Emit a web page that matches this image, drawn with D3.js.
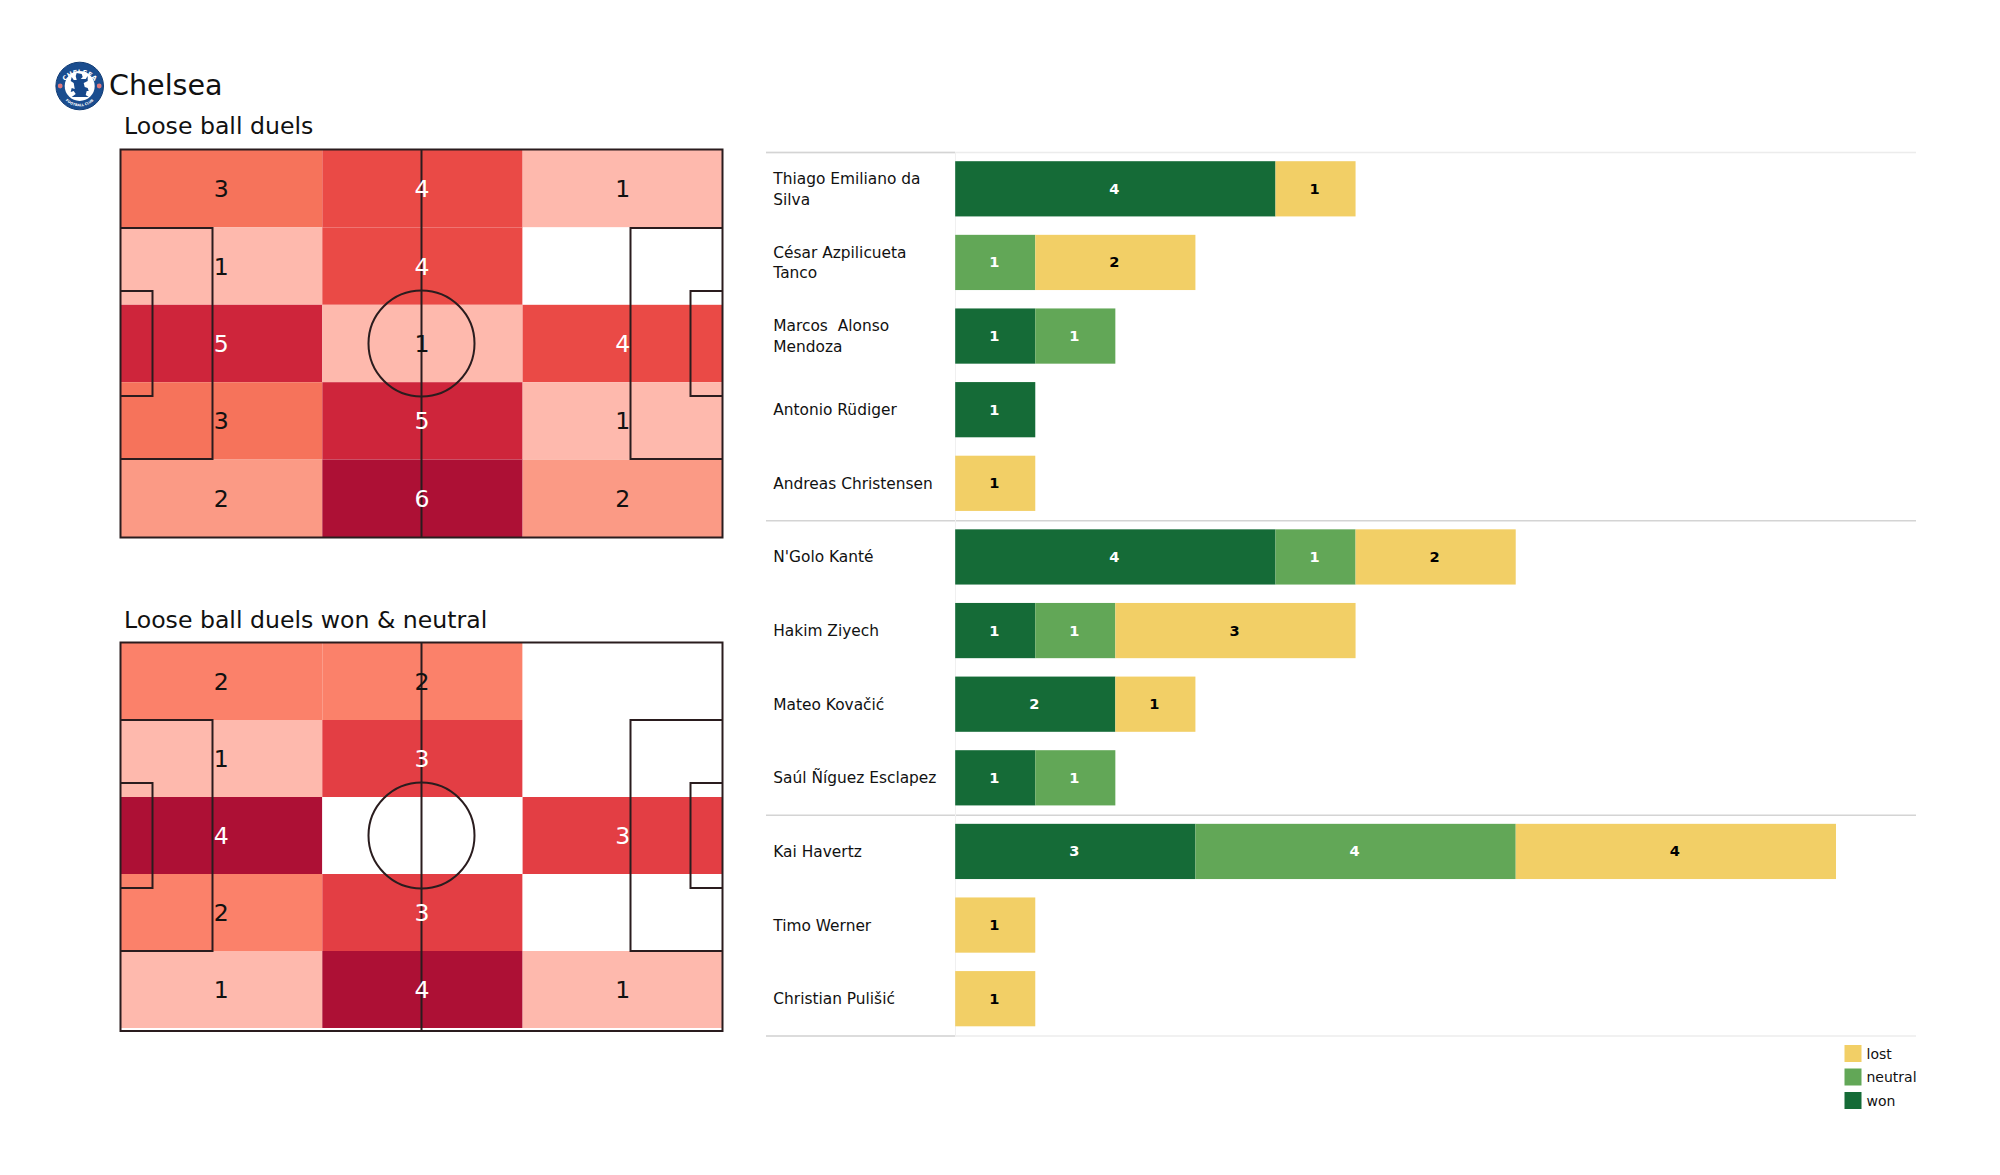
<!DOCTYPE html>
<html><head><meta charset="utf-8">
<script src="https://cdn.jsdelivr.net/npm/d3@7"></script>
<style>
html,body{margin:0;padding:0;background:#fff}
svg{display:block}
text{font-family:"DejaVu Sans",sans-serif}
</style></head><body>
<svg id="c" width="2000" height="1175"></svg>
<script>
const teamName = "Chelsea";
const pitchTitles = ["Loose ball duels", "Loose ball duels won & neutral"];
const duelsAll = [[3,4,1],[1,4,0],[5,1,4],[3,5,1],[2,6,2]];
const duelsWon = [[2,2,0],[1,3,0],[4,0,3],[2,3,0],[1,4,1]];
const rampAll = ["#ffffff","#feb9ad","#fb9a85","#f6735b","#ea4a46","#ce253b","#ad1035"];
const rampWon = ["#ffffff","#feb9ad","#fb816a","#e33e44","#ad1035"];
const players = ["Thiago Emiliano da|Silva","César Azpilicueta|Tanco","Marcos  Alonso|Mendoza","Antonio Rüdiger","Andreas Christensen","N'Golo Kanté","Hakim Ziyech","Mateo Kovačić","Saúl Ñíguez Esclapez","Kai Havertz","Timo Werner","Christian Pulišić"];
const won     = [4,0,1,1,0,4,1,2,1,3,0,0];
const neutral = [0,1,1,0,0,1,1,0,1,4,0,0];
const lost    = [1,2,0,0,1,2,3,1,0,4,1,1];
const groupEnds = [0,5,9,12];
const outcomes = ["won","neutral","lost"];
const outcomeColors = ["#156b37","#62a757","#f2cf66"];
const legendOrder = ["lost","neutral","won"];

const svg = d3.select("#c");

// ----- header
svg.append("text").attr("x",109).attr("y",95).attr("font-size",28.6).attr("fill","#111").text(teamName);
const crest = svg.append("g").attr("transform","translate(79.7,86)");
crest.append("circle").attr("r",23.8).attr("fill","#1a4d8f");
crest.append("circle").attr("r",23.8).attr("fill","none").attr("stroke","#103b74").attr("stroke-width",1);
crest.append("circle").attr("r",15).attr("fill","#fff");
const defs = svg.append("defs");
defs.append("path").attr("id","arcTop").attr("d","M-18.5,3 A19,19 0 0 1 18.5,3");
defs.append("path").attr("id","arcBot").attr("d","M-18,9 A20,20 0 0 0 18,9");
crest.append("text").attr("font-size",6.6).attr("font-weight","bold").attr("fill","#fff").attr("text-anchor","middle")
  .append("textPath").attr("href","#arcTop").attr("startOffset","50%").text("CHELSEA");
crest.append("text").attr("font-size",3.4).attr("font-weight","bold").attr("fill","#fff").attr("text-anchor","middle")
  .append("textPath").attr("href","#arcBot").attr("startOffset","50%").text("FOOTBALL CLUB");
crest.selectAll("circle.dot").data([-1,1]).join("circle").attr("class","dot").attr("cx",d=>d*19.5).attr("cy",0).attr("r",2.4).attr("fill","#e0787c");
crest.append("path").attr("fill","#17498c")
  .attr("d","M-3,-13 L2,-12 L3,-9 L1,-7 L6,-7 L8,-10 L8,-5 L4,-3 L5,1 L8,2 L9,5 L7,5 L6,9 L9,11 L-8,11 L-4,8 L-6,5 L-9,6 L-8,2 L-5,3 L-6,-3 L-9,-5 L-8,-9 L-6,-6 L-3,-6 L-4,-10 Z");

// ----- pitches
function drawPitch(cfg){
  const g = svg.append("g");
  const x = d3.scaleLinear().domain([0,1,2,3]).range([cfg.x0,322.3,522.6,cfg.x1]);
  const xLabel = d3.scaleLinear().domain([0,3]).range([cfg.x0+0.5,cfg.x1+0.5]);
  const y = d3.scaleLinear().domain([0,5]).range([cfg.y0,cfg.y0+cfg.rowH*5]);
  const maxV = d3.max(cfg.values.flat());
  const col = d3.scaleOrdinal().domain(d3.range(cfg.ramp.length)).range(cfg.ramp);
  const cells = cfg.values.flatMap((r,i)=>r.map((v,j)=>({v,i,j})));
  g.selectAll("rect").data(cells).join("rect")
    .attr("x",d=>x(d.j)).attr("y",d=>y(d.i))
    .attr("width",d=>x(d.j+1)-x(d.j)).attr("height",d=>y(d.i+1)-y(d.i))
    .attr("fill",d=>col(d.v));
  const L = cfg.x0, R = cfg.x1, T = cfg.top, B = cfg.bottom, M = (L+R)/2, C = (cfg.y0+cfg.y0+cfg.rowH*5)/2;
  const line = g.append("g").attr("fill","none").attr("stroke","#2a1c1e").attr("stroke-width",2);
  line.append("rect").attr("x",L).attr("y",T).attr("width",R-L).attr("height",B-T);
  line.append("line").attr("x1",M).attr("x2",M).attr("y1",T).attr("y2",B);
  line.append("circle").attr("cx",M).attr("cy",C).attr("r",53);
  [[L,1],[R,-1]].forEach(([e,s])=>{
    line.append("path").attr("d",`M${e},${C-115.5}H${e+s*92}V${C+115.5}H${e}`);
    line.append("path").attr("d",`M${e},${C-52.5}H${e+s*32}V${C+52.5}H${e}`);
  });
  g.selectAll("text.v").data(cells.filter(d=>d.v>0)).join("text").attr("class","v")
    .attr("x",d=>(xLabel(d.j)+xLabel(d.j+1))/2).attr("y",d=>(y(d.i)+y(d.i+1))/2+8.5)
    .attr("text-anchor","middle").attr("font-size",23.6)
    .attr("fill",d=>d.v/maxV>0.6?"#fff":"#111").text(d=>d.v);
  svg.append("text").attr("x",124).attr("y",cfg.titleY).attr("font-size",23.6).attr("fill","#111").text(cfg.title);
}
drawPitch({values:duelsAll,ramp:rampAll,x0:120.5,x1:722.5,y0:150,rowH:77.4,top:149.5,bottom:537.5,title:pitchTitles[0],titleY:134});
drawPitch({values:duelsWon,ramp:rampWon,x0:120.5,x1:722.5,y0:643,rowH:77,top:642.5,bottom:1031,title:pitchTitles[1],titleY:628});

// ----- bars
const rows = players.map((p,i)=>({p,won:won[i],neutral:neutral[i],lost:lost[i]}));
const yB = d3.scaleBand().domain(d3.range(players.length)).range([152.5,1036]).paddingInner(0.25).paddingOuter(0.125);
const step = yB.step();
const xB = d3.scaleLinear().domain([0,11]).range([955.2,1836]);
const colorB = d3.scaleOrdinal().domain(outcomes).range(outcomeColors);
const stacked = d3.stack().keys(outcomes)(rows);
const bars = svg.append("g");
const barsTop = 152.5;
bars.selectAll("line.sep").data(groupEnds).join("line").attr("class","sep")
  .attr("x1",766).attr("x2",1916).attr("y1",d=>barsTop+d*step).attr("y2",d=>barsTop+d*step)
  .attr("stroke",d=>(d===0||d===12)?"#ececec":"#d4d4d4").attr("stroke-width",1.5);
bars.selectAll("line.sepl").data([0,12]).join("line").attr("class","sepl")
  .attr("x1",766).attr("x2",955).attr("y1",d=>barsTop+d*step).attr("y2",d=>barsTop+d*step)
  .attr("stroke","#d4d4d4").attr("stroke-width",1.5);
bars.append("line").attr("x1",955.5).attr("x2",955.5).attr("y1",152.5).attr("y2",1036).attr("stroke","#f0f0f0").attr("stroke-width",1);
stacked.forEach(s=>{
  const pts = s.map((d,i)=>({a:d[0],b:d[1],i,key:s.key})).filter(d=>d.b>d.a);
  const g = bars.append("g");
  g.selectAll("rect").data(pts).join("rect")
    .attr("x",d=>xB(d.a)).attr("width",d=>xB(d.b)-xB(d.a))
    .attr("y",d=>yB(d.i)-0.5).attr("height",yB.bandwidth()).attr("fill",colorB(s.key));
  g.selectAll("text").data(pts).join("text")
    .attr("x",d=>(xB(d.a)+xB(d.b))/2-1).attr("y",d=>yB(d.i)+yB.bandwidth()/2+4.5)
    .attr("text-anchor","middle").attr("font-size",14.6).attr("font-weight","bold")
    .attr("fill",s.key==="lost"?"#000":"#fff").text(d=>d.b-d.a);
});
// player labels
rows.forEach((r,i)=>{
  const cy = yB(i)+yB.bandwidth()/2;
  const parts = r.p.split("|");
  const t = bars.append("text").attr("font-size",15.4).attr("fill","#111").style("white-space","pre");
  parts.forEach((pt,k)=>{
    t.append("tspan").attr("x",773.3).attr("y",cy+5+(k-(parts.length-1)/2)*20.5).text(pt);
  });
});
// legend
const legY = d3.scalePoint().domain(legendOrder).range([1053.5,1100.5]);
const leg = svg.append("g");
legendOrder.forEach(k=>{
  leg.append("rect").attr("x",1844.5).attr("y",legY(k)-8.5).attr("width",17).attr("height",17).attr("fill",colorB(k));
  leg.append("text").attr("x",1866.5).attr("y",legY(k)+5).attr("font-size",14).attr("fill","#111").text(k);
});
</script>
</body></html>
